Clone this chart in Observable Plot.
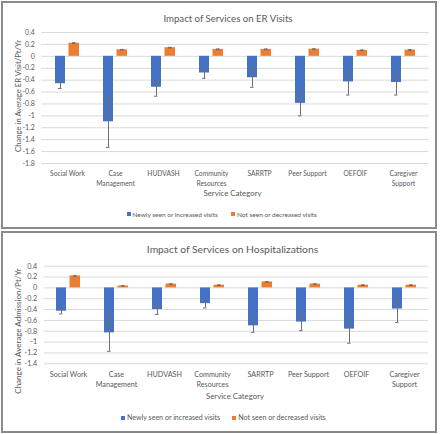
<!DOCTYPE html>
<html>
<head>
<meta charset="utf-8">
<script src="https://cdn.jsdelivr.net/npm/d3@7"></script>
<script src="https://cdn.jsdelivr.net/npm/@observablehq/plot@0.6"></script>
<style>
  html, body { margin: 0; padding: 0; background: #fff; }
  #wrap { position: relative; width: 440px; height: 434px; overflow: hidden; background: #fff; font-family: Lato, "Noto Sans", sans-serif; color: #595959; }
  .abs { position: absolute; white-space: nowrap; }
  .c { transform: translate(-50%, -50%); }
  .rot { transform: translate(-50%, -50%) rotate(-90deg); }
  .panel { position: absolute; box-sizing: border-box; border: 2px solid #8a8a8a; }
  .sw { display: inline-block; width: 4px; height: 4px; margin-right: 2px; vertical-align: middle; position: relative; top: -1px; }
</style>
</head>
<body>
<div id="wrap"></div>
<script>
// ---- data ----
const categories = ["Social Work", "Case Management", "HUDVASH", "Community Resources", "SARRTP", "Peer Support", "OEFOIF", "Caregiver Support"];
const categoryLabels = ["Social Work", "Case\nManagement", "HUDVASH", "Community\nResources", "SARRTP", "Peer Support", "OEFOIF", "Caregiver\nSupport"];
const seriesNames = ["Newly seen or increased visits", "Not seen or decreased visits"];

// ER visits
const erNewly     = [-0.46, -1.10, -0.52, -0.28, -0.36, -0.79, -0.43, -0.44];
const erNewlyLow  = [-0.54, -1.53, -0.67, -0.37, -0.52, -1.00, -0.65, -0.65];
const erNewlyHigh = [-0.39, -0.67, -0.40, -0.19, -0.20, -0.58, -0.22, -0.24];
const erNot       = [0.22, 0.11, 0.145, 0.117, 0.117, 0.12, 0.10, 0.105];
const erNotLow    = [0.215, 0.104, 0.139, 0.111, 0.111, 0.114, 0.094, 0.099];
const erNotHigh   = [0.228, 0.116, 0.151, 0.123, 0.123, 0.126, 0.106, 0.111];
const erTicks = [0.4, 0.2, 0, -0.2, -0.4, -0.6, -0.8, -1, -1.2, -1.4, -1.6, -1.8];

// Hospitalizations
const hospNewly     = [-0.43, -0.83, -0.40, -0.29, -0.70, -0.63, -0.76, -0.39];
const hospNewlyLow  = [-0.48, -1.17, -0.49, -0.37, -0.82, -0.79, -1.02, -0.64];
const hospNewlyHigh = [-0.37, -0.47, -0.29, -0.24, -0.58, -0.46, -0.50, -0.15];
const hospNot       = [0.22, 0.035, 0.07, 0.05, 0.11, 0.07, 0.05, 0.05];
const hospNotLow    = [0.215, 0.03, 0.064, 0.044, 0.104, 0.064, 0.044, 0.044];
const hospNotHigh   = [0.226, 0.041, 0.076, 0.056, 0.116, 0.076, 0.056, 0.056];
const hospTicks = [0.4, 0.2, 0, -0.2, -0.4, -0.6, -0.8, -1, -1.2, -1.4];

const BLUE = "#4472C4", ORANGE = "#ED7D31", ERR = "#6f6f6f", GRID = "#d9d9d9", TEXT = "#595959";

const labelMap = new Map(categories.map((c, i) => [c, categoryLabels[i]]));
const fmt = d => String(d);

function rowsOf(newly, nLow, nHigh, not, oLow, oHigh) {
  return categories.map((cat, i) => ({cat, newly: newly[i], nLow: nLow[i], nHigh: nHigh[i], not: not[i], oLow: oLow[i], oHigh: oHigh[i]}));
}

function chart(rows, ticks, o) {
  return Plot.plot({
    width: 440, height: o.height,
    marginLeft: o.ml, marginRight: o.mr, marginTop: o.mt, marginBottom: o.mb,
    style: {background: "transparent", fontFamily: "Lato, 'Noto Sans', sans-serif", color: TEXT, overflow: "visible"},
    x: {domain: categories, padding: 0, axis: null},
    y: {domain: [ticks[ticks.length - 1], ticks[0]], axis: null},
    marks: [
      Plot.gridY(ticks, {stroke: GRID, strokeOpacity: 1, strokeWidth: 1}),
      Plot.axisY(ticks, {tickSize: 0, tickPadding: o.ytp, tickFormat: fmt, fontSize: o.yfs, label: null, fill: TEXT}),
      Plot.axisX({tickSize: 0, tickPadding: o.xtp, tickFormat: d => labelMap.get(d), fontSize: o.fs, lineHeight: 1.4, label: null, fill: TEXT}),
      Plot.barY(rows, {x: "cat", y: "newly", fill: BLUE, insetLeft: 12, insetRight: 26}),
      Plot.barY(rows, {x: "cat", y: "not", fill: ORANGE, insetLeft: 25.5, insetRight: 12}),
      Plot.ruleX(rows, {x: "cat", y1: "nLow", y2: "nHigh", dx: -7, stroke: ERR, strokeWidth: 1}),
      Plot.tickY(rows, {x: "cat", y: "nLow", stroke: ERR, insetLeft: 15, insetRight: 29.5}),
      Plot.tickY(rows, {x: "cat", y: "nHigh", stroke: ERR, insetLeft: 15, insetRight: 29.5}),
      Plot.ruleX(rows, {x: "cat", y1: "oLow", y2: "oHigh", dx: 7, stroke: ERR, strokeWidth: 1}),
      Plot.tickY(rows, {x: "cat", y: "oLow", stroke: ERR, insetLeft: 29, insetRight: 15.5}),
      Plot.tickY(rows, {x: "cat", y: "oHigh", stroke: ERR, insetLeft: 29, insetRight: 15.5})
    ]
  });
}

const wrap = document.getElementById("wrap");
function place(node, left, top) {
  node.style.position = "absolute"; node.style.left = left + "px"; node.style.top = top + "px";
  wrap.appendChild(node);
}
function label(text, x, y, size, cls, extra) {
  const d = document.createElement("div");
  d.className = "abs " + cls;
  d.textContent = text;
  d.style.left = x + "px"; d.style.top = y + "px"; d.style.fontSize = size + "px";
  if (extra) Object.assign(d.style, extra);
  wrap.appendChild(d);
  return d;
}
function legend(x1, x2, y, size) {
  [[x1, BLUE, seriesNames[0]], [x2, ORANGE, seriesNames[1]]].forEach(([x, col, name]) => {
    const d = document.createElement("div");
    d.className = "abs";
    d.style.left = x + "px"; d.style.top = (y - size * 0.65) + "px"; d.style.fontSize = size + "px";
    d.innerHTML = `<span class="sw" style="background:${col}"></span>`;
    d.appendChild(document.createTextNode(name));
    wrap.appendChild(d);
  });
}
function panel(l, t, r, b) {
  const d = document.createElement("div");
  d.className = "panel";
  d.style.left = l + "px"; d.style.top = t + "px";
  d.style.width = (r - l) + "px"; d.style.height = (b - t) + "px";
  wrap.appendChild(d);
}

// ---- top chart: ER visits ----
const erRows = rowsOf(erNewly, erNewlyLow, erNewlyHigh, erNot, erNotLow, erNotHigh);
place(chart(erRows, erTicks, {height: 200, ml: 41.3, mr: 11.5, mt: 32, mb: 37, ytp: 7, xtp: 6, fs: 6.7, yfs: 7}), 0, 0);
label("Impact of Services on ER Visits", 228, 17.5, 9.6, "c");
label("Change in Average ER Visit/Pt/Yr", 17.5, 96, 7.7, "rot");
label("Service Category", 232.5, 193.3, 7.8, "c");
legend(126.5, 231, 215, 6.5);
panel(1, 1, 437, 228.5);

// ---- bottom chart: Hospitalizations ----
const hospRows = rowsOf(hospNewly, hospNewlyLow, hospNewlyHigh, hospNot, hospNotLow, hospNotHigh);
place(chart(hospRows, hospTicks, {height: 170, ml: 43.7, mr: 12.3, mt: 33.7, mb: 38.7, ytp: 7, xtp: 6, fs: 7.2, yfs: 7.2}), 0, 232);
label("Impact of Services on Hospitalizations", 232.5, 249, 10.3, "c");
label("Change in Average Admission/Pt/Yr", 17.5, 331, 8, "rot");
label("Service Category", 235, 395.7, 7.8, "c");
legend(121, 232.3, 418, 7.1);
panel(1, 231.3, 437, 433);
</script>
</body>
</html>
